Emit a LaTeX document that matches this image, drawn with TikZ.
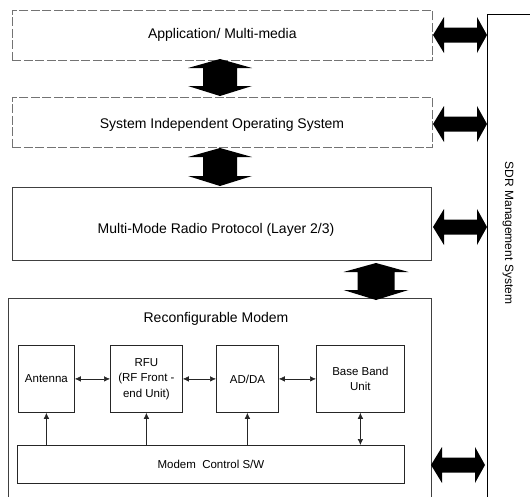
\documentclass[tikz,border=0pt]{standalone}
\usepackage{fontspec}
\setmainfont{Liberation Sans}
\usetikzlibrary{arrows.meta}
\newcommand\bigV[5]{%
  \fill[black] (#1,#2) -- (#1+#5,#2+9) -- (#1+#4,#2+9) -- (#1+#4,#3-10) -- (#1+#5,#3-10) -- (#1,#3)
    -- (#1-#5,#3-10) -- (#1-#4,#3-10) -- (#1-#4,#2+9) -- (#1-#5,#2+9) -- cycle;}
\newcommand\bigH[3]{%
  \fill[black] (#2,#1) -- (#2+11,#1-18) -- (#2+11,#1-7.5) -- (#3-10,#1-7.5) -- (#3-10,#1-18) -- (#3,#1)
    -- (#3-10,#1+18) -- (#3-10,#1+7.5) -- (#2+11,#1+7.5) -- (#2+11,#1+18) -- cycle;}
\begin{document}
\begin{tikzpicture}[x=1pt,y=-1pt,
  faded/.style={draw=black!55, line width=0.7pt, dash pattern=on 9pt off 2.5pt, inner sep=0pt, anchor=north west},
  layer/.style={draw=black!75, line width=0.7pt, inner sep=0pt, anchor=north west},
  unit/.style={draw=black!85, line width=0.8pt, inner sep=0pt, anchor=north west},
  bigtext/.style={font=\fontsize{14}{16}\selectfont, inner sep=0pt},
  smalltext/.style={font=\fontsize{11.5}{15.5}\selectfont, align=center, inner sep=0pt},
  sarrow/.style={draw=black!85, line width=0.6pt, -{Latex[length=6pt,width=5.5pt]}},
  sdarrow/.style={draw=black!85, line width=0.6pt, {Latex[length=6pt,width=5.5pt]}-{Latex[length=6pt,width=5.5pt]}}]
\useasboundingbox (0,0) rectangle (530,496);
\clip (0,0) rectangle (530,496);

% layer boxes
\node[faded, minimum width=420pt, minimum height=50pt] (app) at (12,10) {};
\node[bigtext] (apptxt) at (app.center) {Application/ Multi-media};
\node[faded, minimum width=420pt, minimum height=50pt] (os) at (12,97) {};
\node[bigtext] (ostxt) at (222,125) {System Independent Operating System};
\node[layer, minimum width=419pt, minimum height=73pt] (mmrp) at (12,187) {};
\node[bigtext] (mmrptxt) at (216,230) {Multi-Mode Radio Protocol (Layer 2/3)};
\node[layer, minimum width=423pt, minimum height=220pt] (modem) at (8,298) {};
\node[bigtext] (modemtxt) at (216,319) {Reconfigurable Modem};

% inner units
\node[unit, minimum width=56pt, minimum height=67pt] (ant) at (18,345) {};
\node[smalltext] at (ant.center) {Antenna};
\node[unit, minimum width=72pt, minimum height=67pt] (rfu) at (110,345) {};
\node[smalltext] at (rfu.center) {RFU\\(RF Front -\\end Unit)};
\node[unit, minimum width=62pt, minimum height=67pt] (adda) at (216,345) {};
\node[smalltext] at (adda.center) {AD/DA};
\node[unit, minimum width=88pt, minimum height=67pt] (bbu) at (316,345) {};
\node[smalltext] at (bbu.center) {Base Band\\Unit};
\node[unit, minimum width=387pt, minimum height=38pt] (ctrl) at (17,445) {};
\node[smalltext] at (ctrl.center) {Modem \ Control S/W};

% small connectors
\draw[sdarrow] (ant.east) -- (rfu.west);
\draw[sdarrow] (rfu.east) -- (adda.west);
\draw[sdarrow] (adda.east) -- (bbu.west);
\draw[sarrow] (ant.south |- ctrl.north) -- (ant.south);
\draw[sarrow] (rfu.south |- ctrl.north) -- (rfu.south);
\draw[sarrow] (adda.south |- ctrl.north) -- (adda.south);
\draw[sdarrow] (bbu.south |- ctrl.north) -- (bbu.south);

% SDR management system
\coordinate (sdrb) at (487,500);
\coordinate (sdrt) at (487,14);
\coordinate (sdrr) at (532,14);
\draw[black, line width=0.8pt] (sdrb) -- (sdrt) -- (sdrr);
\node[font=\fontsize{12}{14}\selectfont, rotate=-90, inner sep=0pt] (sdr) at (508,233) {SDR Management System};

% big vertical arrows
\bigV{220}{59}{96}{17}{32}
\bigV{220}{148}{186}{17}{32}
\bigV{376}{263}{300}{18.5}{32.5}

% big horizontal arrows
\bigH{35}{433}{487}
\bigH{124}{433}{487}
\bigH{227}{433}{487}
\bigH{465}{431}{485}
\end{tikzpicture}
\end{document}
